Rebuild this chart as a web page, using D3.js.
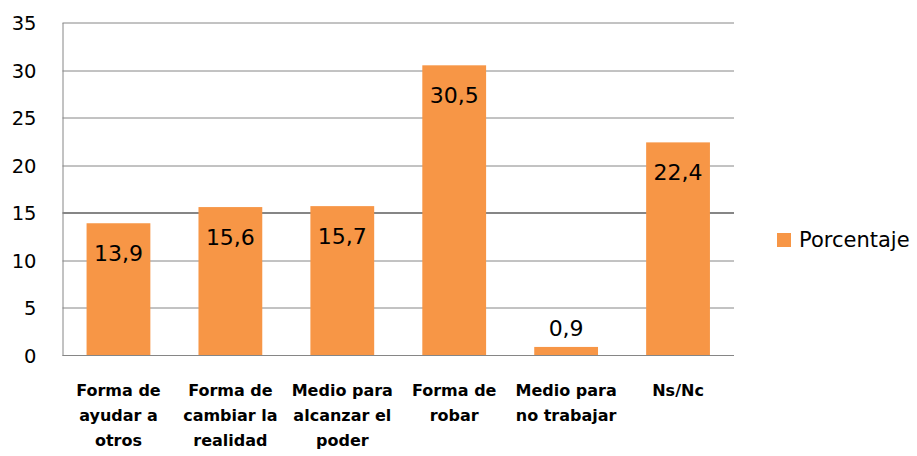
<!DOCTYPE html>
<html>
<head>
<meta charset="utf-8">
<script src="https://cdn.jsdelivr.net/npm/d3@7"></script>
<style>
  body { margin: 0; background: #fff; }
  text { font-family: "DejaVu Sans", sans-serif; }
</style>
</head>
<body>
<svg id="chart" width="917" height="456"></svg>
<script>
// chart data
const categories = ['Forma de ayudar a otros', 'Forma de cambiar la realidad', 'Medio para alcanzar el poder', 'Forma de robar', 'Medio para no trabajar', 'Ns/Nc'];
const categoryLines = [
  ['Forma de', 'ayudar a', 'otros'],
  ['Forma de', 'cambiar la', 'realidad'],
  ['Medio para', 'alcanzar el', 'poder'],
  ['Forma de', 'robar'],
  ['Medio para', 'no trabajar'],
  ['Ns/Nc']
];
const values = [13.9, 15.6, 15.7, 30.5, 0.9, 22.4];
const valueLabels = ['13,9', '15,6', '15,7', '30,5', '0,9', '22,4'];
const yTicks = [0, 5, 10, 15, 20, 25, 30, 35];
const seriesName = 'Porcentaje';

const margin = { top: 22.5, right: 183, bottom: 100.5, left: 62.5 };
const width = 917 - margin.left - margin.right;
const height = 456 - margin.top - margin.bottom;
const barColor = '#f79646';
const gridColor = '#868686';

const svg = d3.select('#chart')
  .append('g')
  .attr('transform', 'translate(' + margin.left + ',' + margin.top + ')');

const x = d3.scaleBand()
  .domain(categories)
  .range([0, width])
  .paddingInner(0.43)
  .paddingOuter(0.215);

const y = d3.scaleLinear()
  .domain([0, 35])
  .range([height, 0]);

// gridlines
svg.append('g')
  .selectAll('line')
  .data(yTicks.filter(d => d > 0))
  .join('line')
  .attr('x1', 0)
  .attr('x2', width)
  .attr('y1', d => Math.round(y(d)) + 0.5)
  .attr('y2', d => Math.round(y(d)) + 0.5)
  .attr('stroke', gridColor)
  .attr('stroke-width', d => d === 15 ? 2 : 1);

// y axis
const yAxis = svg.append('g')
  .call(d3.axisLeft(y).tickValues(yTicks).tickSize(0).tickPadding(26));
yAxis.select('.domain').attr('stroke', gridColor);
yAxis.selectAll('text')
  .attr('font-family', '"DejaVu Sans", sans-serif')
  .attr('font-size', '19.5px')
  .attr('fill', '#000')
  .attr('dy', '0.36em');

// bars
svg.append('g')
  .selectAll('rect')
  .data(values)
  .join('rect')
  .attr('x', (d, i) => x(categories[i]))
  .attr('y', d => y(d))
  .attr('width', x.bandwidth())
  .attr('height', d => height - y(d))
  .attr('fill', barColor);

// value labels
svg.append('g')
  .selectAll('text')
  .data(values)
  .join('text')
  .attr('x', (d, i) => x(categories[i]) + x.bandwidth() / 2)
  .attr('y', d => (height - y(d) > 40) ? y(d) + 37.5 : y(d) - 11)
  .attr('text-anchor', 'middle')
  .attr('font-size', '22px')
  .attr('fill', '#000')
  .text((d, i) => valueLabels[i]);

// x axis line
svg.append('line')
  .attr('x1', 0)
  .attr('x2', width)
  .attr('y1', height)
  .attr('y2', height)
  .attr('stroke', gridColor);

// category labels
const catLabels = svg.append('g')
  .selectAll('text')
  .data(categoryLines)
  .join('text')
  .attr('text-anchor', 'middle')
  .attr('font-size', '16px')
  .attr('font-weight', 'bold')
  .attr('fill', '#000')
  .attr('transform', (d, i) => 'translate(' + (x(categories[i]) + x.bandwidth() / 2) + ',' + (height + 40.5) + ')');

catLabels.selectAll('tspan')
  .data(d => d)
  .join('tspan')
  .attr('x', 0)
  .attr('y', (d, i) => i * 25)
  .text(d => d);

// legend
const legend = svg.append('g')
  .attr('transform', 'translate(' + (width + 43) + ',' + (y(0) - 122.5) + ')');
legend.append('rect')
  .attr('x', 0)
  .attr('y', 0)
  .attr('width', 14)
  .attr('height', 14)
  .attr('fill', barColor);
legend.append('text')
  .attr('x', 22)
  .attr('y', 14)
  .attr('font-size', '21px')
  .attr('fill', '#000')
  .text(seriesName);
</script>
</body>
</html>
